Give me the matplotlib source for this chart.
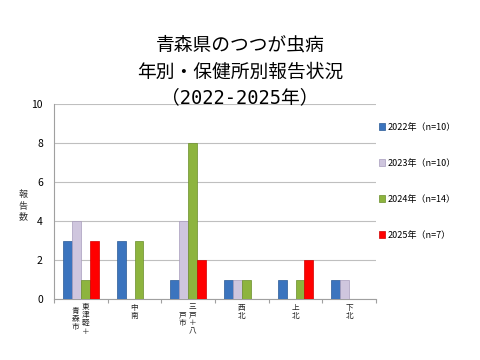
import numpy as np
import matplotlib
matplotlib.use("Agg")
import matplotlib.pyplot as plt

plt.rcParams['font.family'] = ['Noto Sans CJK JP', 'DejaVu Sans']

# data
areas = ['東津軽＋青森市', '中南', '三戸＋八戸市', '西北', '上北', '下北']
# label columns for vertical writing (right column first)
area_cols = [['東津軽＋', '青森市'], ['中南'], ['三戸＋八', '戸市'], ['西北'], ['上北'], ['下北']]
series_names = ['2022年（n=10）', '2023年（n=10）', '2024年（n=14）', '2025年（n=7）']
counts_2022 = [3, 3, 1, 1, 1, 1]
counts_2023 = [4, 0, 4, 1, 0, 1]
counts_2024 = [1, 3, 8, 1, 1, 0]
counts_2025 = [3, 0, 2, 0, 2, 0]
colors = ['#3B74BE', '#CFC6DE', '#8DB43E', '#FF0000']
edges = ['#2A5A96', '#A89CBC', '#6A8E2A', '#D00000']

fig = plt.figure(figsize=(4.8, 3.6), dpi=100)
ax = fig.add_axes([54 / 480, 1 - 299 / 360, (376 - 54) / 480, (299 - 104) / 360])

x = np.arange(len(areas))
w = 0.167
all_counts = [counts_2022, counts_2023, counts_2024, counts_2025]
for i, (vals, c, ec, name) in enumerate(zip(all_counts, colors, edges, series_names)):
    vals = np.array(vals, dtype=float)
    h = np.where(vals > 0, vals, np.nan)
    ax.bar(x + (i - 1.5) * w, h, width=w, color=c, edgecolor=ec, linewidth=0.5,
           label=name, zorder=3)

ax.set_xlim(-0.5, len(areas) - 0.5)
ax.set_ylim(0, 10)
ax.set_yticks(range(0, 11, 2))
ax.tick_params(axis='y', length=0, labelsize=7.5, pad=8)
ax.grid(axis='y', color='#BFBFBF', linewidth=0.8, zorder=0)
ax.set_xticks(np.arange(len(areas) + 1) - 0.5)
ax.set_xticklabels([])
ax.tick_params(axis='x', length=3, color='#A0A0A0')
for s in ['top', 'right']:
    ax.spines[s].set_visible(False)
ax.spines['left'].set_color('#A0A0A0')
ax.spines['bottom'].set_color('#A0A0A0')

# vertical category labels
trans = ax.get_xaxis_transform()
for xi, cols in zip(x, area_cols):
    if len(cols) == 1:
        ax.text(xi, -0.025, '\n'.join(cols[0]), transform=trans, ha='center', va='top',
                fontsize=5.5, linespacing=1.05, color='#222222')
    else:
        for j, col in enumerate(cols):
            off = 0.085 if j == 0 else -0.1
            ax.text(xi + off, -0.103, '\n'.join(col), transform=trans, ha='center',
                    va='center', fontsize=5.5, linespacing=1.05, color='#222222')

fig.text(23 / 480, 1 - 206 / 360, '報\n告\n数', ha='center', va='center', fontsize=6.5,
         linespacing=1.3, color='#333333')

fig.text(0.5, 1 - 45 / 360, '青森県のつつが虫病', ha='center', va='center', fontsize=13.5)
fig.text(0.5, 1 - 72 / 360, '年別・保健所別報告状況', ha='center', va='center', fontsize=13.5)
fig.text(0.5, 1 - 98 / 360, '（2022-2025年）', ha='center', va='center', fontsize=13.5,
         family=['DejaVu Sans Mono', 'Noto Sans CJK JP'])

fig.legend(loc='upper left', bbox_to_anchor=(374 / 480, 1 - 118 / 360), frameon=False,
           fontsize=6.5, labelspacing=3.0, handlelength=0.7, handleheight=0.7,
           handletextpad=0.3, borderpad=0)

fig.savefig('out.png', dpi=100)
